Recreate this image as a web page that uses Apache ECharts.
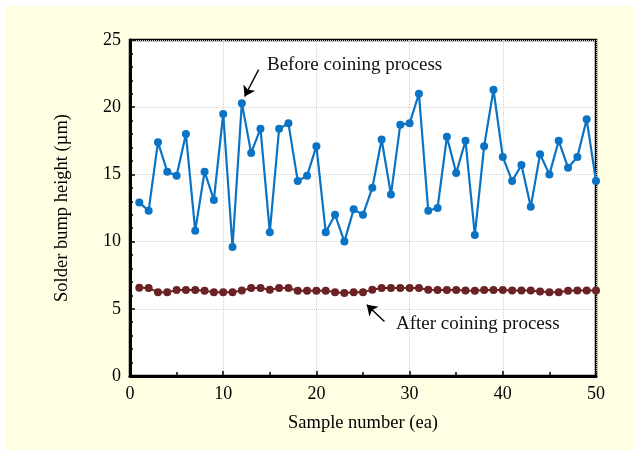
<!DOCTYPE html>
<html>
<head>
<meta charset="utf-8">
<script src="https://cdn.jsdelivr.net/npm/echarts@6/dist/echarts.min.js"></script>
<style>
html,body{margin:0;padding:0;background:#fff;}
#chart{width:633px;height:450px;}
</style>
</head>
<body>
<div id="chart"></div>
<script>
var samples = [1,2,3,4,5,6,7,8,9,10,11,12,13,14,15,16,17,18,19,20,21,22,23,24,25,26,27,28,29,30,31,32,33,34,35,36,37,38,39,40,41,42,43,44,45,46,47,48,49,50];
var beforeCoining = [12.9,12.3,17.4,15.2,14.9,18.0,10.8,15.2,13.1,19.5,9.6,20.3,16.6,18.4,10.7,18.4,18.8,14.5,14.9,17.1,10.7,12.0,10.0,12.4,12.0,14.0,17.6,13.5,18.7,18.8,21.0,12.3,12.5,17.8,15.1,17.5,10.5,17.1,21.3,16.3,14.5,15.7,12.6,16.5,15.0,17.5,15.5,16.3,19.1,14.5];
var afterCoining = [6.57,6.54,6.24,6.24,6.39,6.40,6.39,6.34,6.24,6.24,6.24,6.36,6.54,6.54,6.41,6.54,6.54,6.34,6.34,6.34,6.34,6.24,6.17,6.24,6.24,6.41,6.54,6.54,6.54,6.54,6.54,6.41,6.39,6.39,6.39,6.36,6.34,6.39,6.39,6.39,6.36,6.36,6.36,6.29,6.24,6.24,6.34,6.36,6.36,6.36];
var xTicks = [0,10,20,30,40,50];
var yTicks = [0,5,10,15,20,25];
var xTitle = 'Sample number (ea)';
var yTitle = 'Solder bump height (\u00b5m)';
var labelBefore = 'Before coining process';
var labelAfter = 'After coining process';
var arrowBefore = [[13.8,22.8],[12.3,20.8]];
var arrowAfter = [[27.3,4.05],[25.4,5.3]];

var font = "'Liberation Serif', 'Times New Roman', serif";
var chart = echarts.init(document.getElementById('chart'));
function pairs(xs, ys){ return xs.map(function(x,i){ return [x, ys[i]]; }); }
function arrowLine(a){
  return {
    silent:true, symbol:['none','arrow'], symbolSize:10, precision:2,
    lineStyle:{color:'#000', width:1.4, type:'solid'}, label:{show:false},
    emphasis:{disabled:true},
    data:[[{coord:a[0], symbol:'none'},{coord:a[1], symbol:'arrow', symbolSize:10}]]
  };
}
var option = {
  backgroundColor: '#ffffff',
  animation: false,
  graphic: [
    {type:'rect', left:6, top:6, shape:{width:627, height:444}, style:{fill:'#FFFFE4'}, z:-100, silent:true},
    {type:'text', left:267, top:56, style:{text:labelBefore, font:'19px ' + font, fill:'#111'}, z:100},
    {type:'text', left:396, top:315, style:{text:labelAfter, font:'19px ' + font, fill:'#111'}, z:100}
  ],
  grid: {left:130, right:37, top:40, bottom:74, show:true, backgroundColor:'#ffffff', borderColor:'#000', borderWidth:2.5},
  xAxis: {
    type:'value', min:xTicks[0], max:xTicks[xTicks.length-1], interval:10,
    name:xTitle, nameLocation:'middle', nameGap:38,
    nameTextStyle:{fontFamily:font, fontSize:18.5, color:'#000'},
    axisLine:{show:true, onZero:false, lineStyle:{color:'#000', width:3}},
    axisTick:{show:true, inside:true, length:5, lineStyle:{color:'#000', width:1.5}},
    minorTick:{show:true, splitNumber:2, length:4, lineStyle:{color:'#000', width:1.5}},
    axisLabel:{fontFamily:font, fontSize:18, color:'#000', margin:9},
    splitLine:{show:true, lineStyle:{color:'#d2d2d2', type:'dotted', width:1}}
  },
  yAxis: {
    type:'value', min:yTicks[0], max:yTicks[yTicks.length-1], interval:5,
    name:yTitle, nameLocation:'middle', nameGap:58,
    nameTextStyle:{fontFamily:font, fontSize:18.5, color:'#000'},
    axisLine:{show:true, onZero:false, lineStyle:{color:'#000', width:3}},
    axisTick:{show:true, inside:true, length:5, lineStyle:{color:'#000', width:1.5}},
    minorTick:{show:true, splitNumber:5, length:3, lineStyle:{color:'#000', width:1.5}},
    axisLabel:{fontFamily:font, fontSize:18, color:'#000', margin:9},
    splitLine:{show:true, lineStyle:{color:'#d2d2d2', type:'dotted', width:1}}
  },
  series: [
    {
      type:'line', name:labelBefore, data:pairs(samples, beforeCoining),
      symbol:'circle', symbolSize:8, showAllSymbol:true,
      lineStyle:{color:'#0A73C4', width:2.2},
      itemStyle:{color:'#0A73C4'},
      markLine: arrowLine(arrowBefore)
    },
    {
      type:'line', name:labelAfter, data:pairs(samples, afterCoining),
      symbol:'circle', symbolSize:8, showAllSymbol:true,
      lineStyle:{color:'#6A2224', width:2},
      itemStyle:{color:'#6A2224'},
      markLine: arrowLine(arrowAfter)
    }
  ]
};
chart.setOption(option);
</script>
</body>
</html>
